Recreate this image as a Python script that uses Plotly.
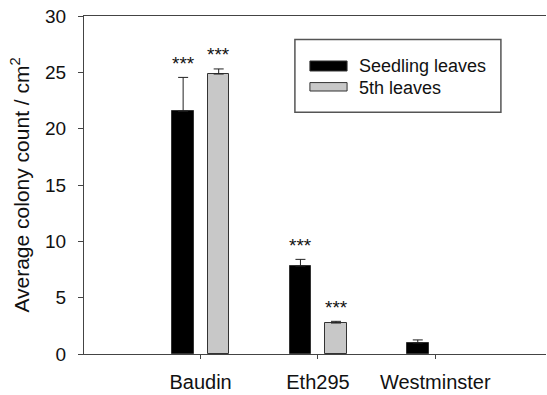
import plotly.graph_objects as go

categories = ["Baudin", "Eth295", "Westminster"]
series_names = ["Seedling leaves", "5th leaves"]
seedling_vals = [21.55, 7.8, 0.98]
seedling_err = [3.0, 0.6, 0.27]
fifth_vals = [24.85, 2.75, None]
fifth_err = [0.45, 0.15, 0]
seedling_sig = ["***", "***", ""]
fifth_sig = ["***", "***", ""]
y_ticks = [0, 5, 10, 15, 20, 25, 30]

FONT = "Liberation Sans, Arial, sans-serif"
BAR_W = 0.184
OFF_A = -0.241
OFF_B = 0.062
colors = ["#000000", "#c8c8c8"]

fig = go.Figure()
for name, vals, errs, off, col in [
    (series_names[0], seedling_vals, seedling_err, OFF_A, colors[0]),
    (series_names[1], fifth_vals, fifth_err, OFF_B, colors[1]),
]:
    fig.add_trace(go.Bar(
        x=categories, y=vals, name=name,
        width=BAR_W, offset=off,
        marker=dict(color=col, line=dict(color="#333333", width=1)),
        error_y=dict(type="data", array=errs, arrayminus=[0] * len(errs),
                     symmetric=False, color="#222222", thickness=1, width=5),
        showlegend=False,
        hoverinfo="skip",
    ))

# significance stars
for vals, errs, sig, off in [
    (seedling_vals, seedling_err, seedling_sig, OFF_A),
    (fifth_vals, fifth_err, fifth_sig, OFF_B),
]:
    for i, (v, e, s) in enumerate(zip(vals, errs, sig)):
        if s and v is not None:
            fig.add_annotation(
                x=i + off + BAR_W / 2, y=v + e, xref="x", yref="y",
                text=s, showarrow=False, yanchor="middle", yshift=14,
                font=dict(family=FONT, size=19, color="#111111"),
            )

# legend (box, swatches, labels)
fig.add_shape(type="rect", xref="paper", yref="paper",
              x0=0.4565, x1=0.9024, y0=0.7151, y1=0.9302,
              line=dict(color="#555555", width=1.5), fillcolor="white")
sw = [(0.8373, 0.8669), (0.7781, 0.8030)]
ty = [0.8533, 0.7882]
for k in range(2):
    fig.add_shape(type="rect", xref="paper", yref="paper",
                  x0=0.489, x1=0.5694, y0=sw[k][0], y1=sw[k][1],
                  line=dict(color="#333333", width=1), fillcolor=colors[k])
    fig.add_annotation(x=0.5906, y=ty[k], xref="paper", yref="paper",
                       text=series_names[k], showarrow=False,
                       xanchor="left", yanchor="middle",
                       font=dict(family=FONT, size=18, color="#111111"))

fig.update_layout(
    width=547, height=395,
    margin=dict(l=84, r=1, t=16, b=41, autoexpand=False),
    plot_bgcolor="white", paper_bgcolor="white",
    font=dict(family=FONT, size=20, color="#111111"),
    bargap=0,
)
fig.update_xaxes(
    type="category", range=[-0.994, 2.944], automargin=False,
    showline=True, linecolor="#444444", linewidth=1, mirror=True,
    ticks="outside", ticklen=4, tickcolor="#444444",
    ticklabelstandoff=6, showgrid=False, zeroline=False,
    tickfont=dict(size=20),
)
fig.update_yaxes(
    range=[0, 30], tickvals=y_ticks, automargin=False,
    showline=True, linecolor="#444444", linewidth=1,
    ticks="outside", ticklen=5, tickcolor="#444444",
    ticklabelstandoff=8, showgrid=False, zeroline=False,
    tickfont=dict(size=19),
    title=dict(text="Average colony count / cm<sup>2</sup>",
               font=dict(size=21), standoff=9),
)

fig.write_html(
    "out.html",
    config={"displayModeBar": False},
    post_script="document.body.style.margin='0';document.body.style.padding='0';",
)
